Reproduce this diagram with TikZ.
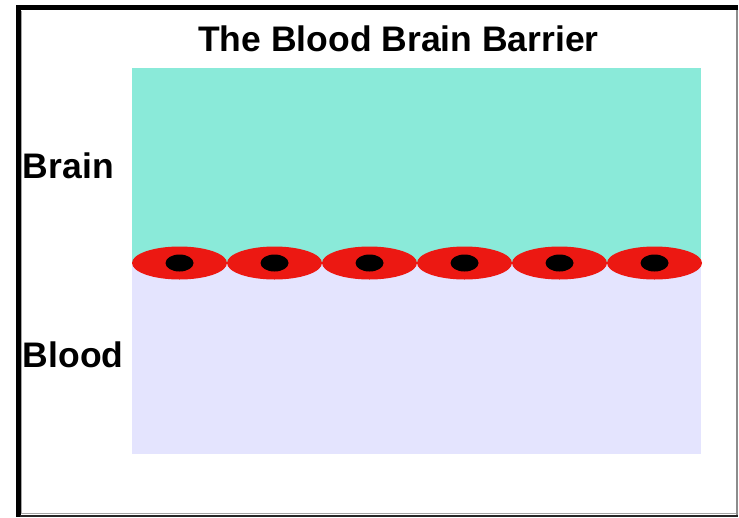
\documentclass[tikz,border=0pt]{standalone}
\usepackage{fontspec}
\setmainfont{Liberation Sans}
\usetikzlibrary{shapes.geometric}
\definecolor{braincol}{RGB}{138,234,217}
\definecolor{bloodcol}{RGB}{228,228,254}
\definecolor{cellred}{RGB}{236,24,18}
\begin{document}
\begin{tikzpicture}[x=1pt,y=-1pt,
  bigtext/.style={font=\bfseries\fontsize{35.5}{40}\selectfont, inner sep=0pt},
  cell/.style={ellipse, fill=cellred, inner sep=0pt, minimum width=95pt, minimum height=33pt},
  nucleus/.style={ellipse, fill=black, inner sep=0pt, minimum width=28pt, minimum height=17pt}]
\useasboundingbox (0,0) rectangle (739,517);
\fill[white] (0,0) rectangle (739,517);
% inset frame: heavy black top and left, thin shaded right and bottom
\draw[black!35, line width=1pt] (21,10.5) -- (21,513.5) -- (735.5,513.5);
\fill[black] (16,5) rectangle (20.5,517);
\fill[black] (16,5) rectangle (738,10);
\fill[black!45] (736,10) rectangle (738,517);
\fill[black!85] (20,515) rectangle (738,517);
% brain tissue and blood
\fill[braincol] (132,68) rectangle (701,264);
\fill[bloodcol] (132,264) rectangle (701,454);
% endothelial cells along the barrier
\foreach \i in {1,...,6} {
  \node[cell] (c\i) at ({132+95*\i-47.5},263) {};
  \node[nucleus] (n\i) at (c\i.center) {};
}
% labels
\node[bigtext, anchor=base] (title) at (398.5,51) {The Blood Brain Barrier};
\node[bigtext, anchor=base west] (brain) at (22.8,178.3) {Brain};
\node[bigtext, anchor=base west] (blood) at (22.8,367.3) {Blood};
\end{tikzpicture}
\end{document}
